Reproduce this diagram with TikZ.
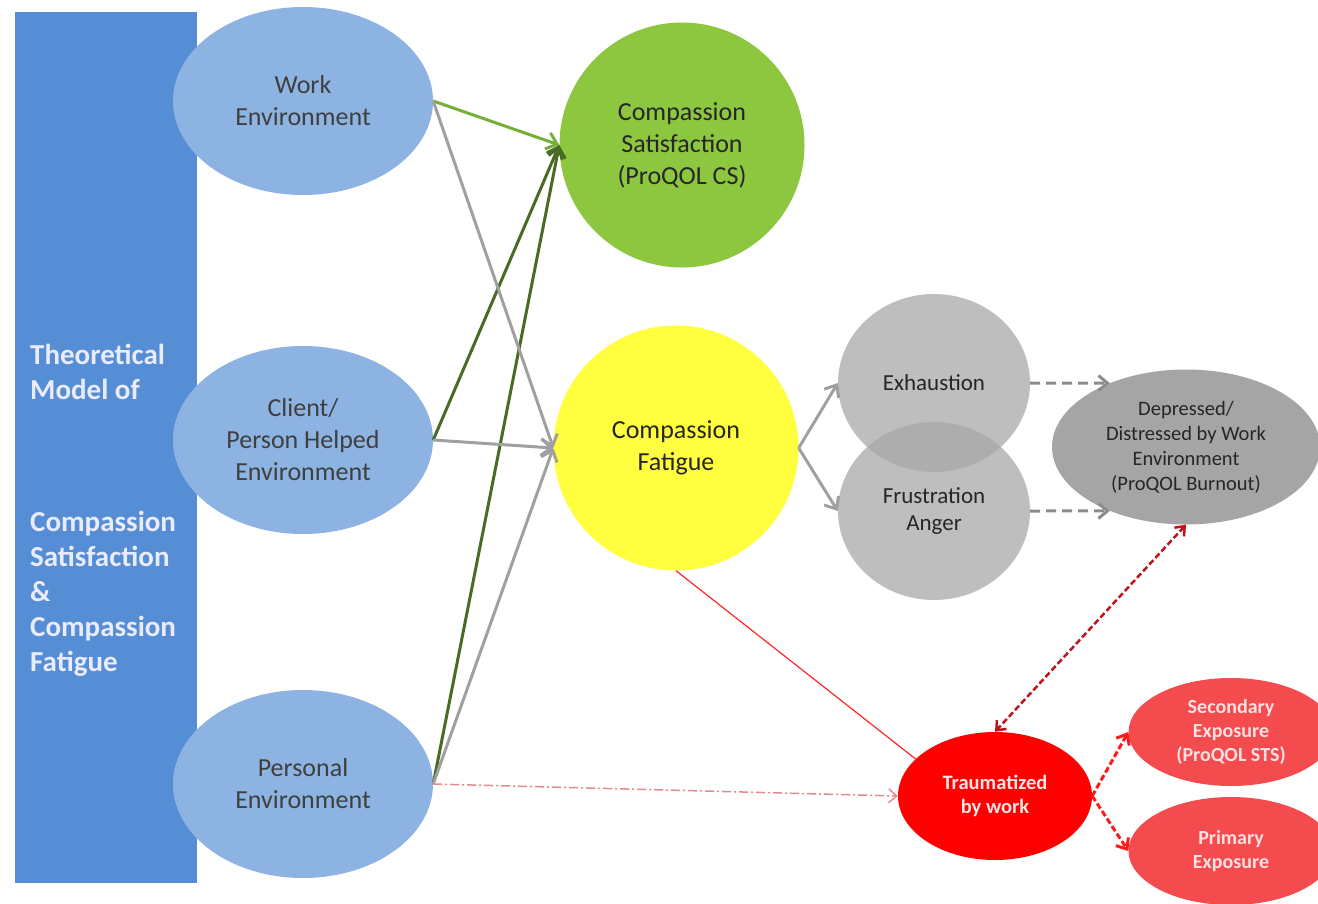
\documentclass[tikz,border=0pt]{standalone}
\usepackage{fontspec}
\setmainfont{Carlito}
\usetikzlibrary{shapes.geometric, arrows.meta, positioning}

\definecolor{boxblue}{HTML}{558ED5}
\definecolor{envblue}{HTML}{8DB3E2}
\definecolor{envtext}{HTML}{3F3F3F}
\definecolor{csgreen}{HTML}{8DC63F}
\definecolor{cfyellow}{HTML}{FFFF40}
\definecolor{circgray}{HTML}{A8A8A8}
\definecolor{depgray}{HTML}{A5A5A5}
\definecolor{traumared}{HTML}{FF0000}
\definecolor{exposred}{HTML}{F44B4F}
\definecolor{litegreen}{HTML}{76B03A}
\definecolor{darkgreen}{HTML}{4A6B24}
\definecolor{arrowgray}{HTML}{A0A0A0}
\definecolor{dashgray}{HTML}{8C8C8C}
\definecolor{darkred}{HTML}{C0141C}
\definecolor{pinkred}{HTML}{E58A8A}

\begin{document}
\begin{tikzpicture}[x=1pt, y=-1pt,
    env/.style={
        ellipse,
        fill=envblue,
        minimum width=260pt,
        minimum height=188pt,
        inner sep=0pt,
        align=center,
        text=envtext,
        font=\fontsize{26}{32}\selectfont
    },
    bigcirc/.style={
        circle,
        minimum size=245pt,
        inner sep=0pt,
        align=center,
        text=black!85,
        font=\fontsize{26}{32}\selectfont
    },
    graycirc/.style={
        ellipse,
        fill=circgray,
        fill opacity=0.75,
        text opacity=1,
        minimum width=192pt,
        minimum height=178pt,
        inner sep=0pt,
        align=center,
        text=black!85,
        font=\fontsize{23}{27}\selectfont
    },
    redoval/.style={
        ellipse,
        fill=exposred,
        minimum width=205pt,
        minimum height=108pt,
        inner sep=0pt,
        align=center,
        text=white!88!red,
        font=\fontsize{20}{24}\selectfont\bfseries
    },
    greenline/.style={-{Straight Barb[length=10pt,width=17pt]}, line width=3pt, draw=darkgreen},
    grayline/.style={-{Straight Barb[length=10pt,width=17pt]}, line width=3pt, draw=arrowgray},
    dashline/.style={-{Straight Barb[length=9pt,width=15pt]}, line width=3pt, draw=dashgray, dash pattern=on 10pt off 6pt},
    redline/.style={line width=2.5pt, draw=darkred, dash pattern=on 6pt off 3pt}
]

    \useasboundingbox (0,0) rectangle (1318,903);

    % left column
    \node[rectangle, fill=boxblue, minimum width=182pt, minimum height=871pt, inner sep=0pt] (theory) at (106,447.5) {};
    \node[anchor=north west, align=left, inner sep=0pt, text=white!92!blue,
          font=\fontsize{29}{35}\selectfont\bfseries] (theorytext) at (30,344)
        {Theoretical\\Model of\\[97pt]Compassion\\Satisfaction\\\&\\Compassion\\Fatigue};

    % environments
    \node[env] (workenv) at (303,101) {Work\\Environment};
    \node[env] (clientenv) at (303,440) {Client/\\Person Helped\\Environment};
    \node[env] (personalenv) at (303,784) {Personal\\Environment};

    % outcomes
    \node[bigcirc, fill=csgreen] (compsat) at (682,145) {Compassion\\Satisfaction\\(ProQOL CS)};
    \node[bigcirc, fill=cfyellow] (compfat) at (676,448) {Compassion\\Fatigue};

    \node[graycirc] (exhaust) at (934,383) {Exhaustion};
    \node[graycirc] (frustr) at (934,511) {Frustration\\Anger};
    \node[ellipse, fill=depgray, minimum width=268pt, minimum height=155pt, inner sep=0pt,
          align=center, text=black!85, font=\fontsize{20.5}{25}\selectfont] (depressed) at (1186,447)
        {Depressed/\\Distressed by Work\\Environment\\(ProQOL Burnout)};

    \node[ellipse, fill=traumared, minimum width=194pt, minimum height=128pt, inner sep=0pt,
          align=center, text=white!90!red, font=\fontsize{20.5}{24}\selectfont\bfseries] (trauma) at (995,796)
        {Traumatized\\by work};
    \node[redoval] (secexp) at (1231,732) {Secondary\\Exposure\\(ProQOL STS)};
    \node[redoval] (primexp) at (1231,851) {Primary\\Exposure};

    % arrows into compassion satisfaction / fatigue
    \draw[greenline, draw=litegreen] (workenv.east) -- (compsat.west);
    \draw[greenline] (clientenv.east) -- (compsat.west);
    \draw[greenline] (personalenv.east) -- (compsat.west);
    \draw[grayline] (workenv.east) -- (compfat.west);
    \draw[grayline] (clientenv.east) -- (compfat.west);
    \draw[grayline] (personalenv.east) -- (compfat.west);

    \draw[grayline] (compfat.east) -- (exhaust.west);
    \draw[grayline] (compfat.east) -- (frustr.west);
    \draw[dashline] (exhaust.east) -- (depressed.140);
    \draw[dashline] (frustr.east) -- (depressed.220);

    % trauma branch
    \draw[line width=1.2pt, draw=red!85] (compfat.south) -- (trauma.155);
    \draw[-{Straight Barb[length=8pt,width=14pt]}, line width=1.5pt, draw=pinkred,
          dash pattern=on 9pt off 3pt on 2pt off 3pt] (personalenv.east) -- (trauma.west);
    \draw[redline, {Straight Barb[length=8pt,width=13pt]}-{Straight Barb[length=8pt,width=13pt]}] (depressed.south) -- (trauma.north);
    \draw[redline, draw=red!90, line width=3pt, -{Straight Barb[length=9pt,width=15pt]}] (trauma.east) -- (secexp.west);
    \draw[redline, draw=red!90, line width=3pt, -{Straight Barb[length=9pt,width=15pt]}] (trauma.east) -- (primexp.west);

\end{tikzpicture}
\end{document}
